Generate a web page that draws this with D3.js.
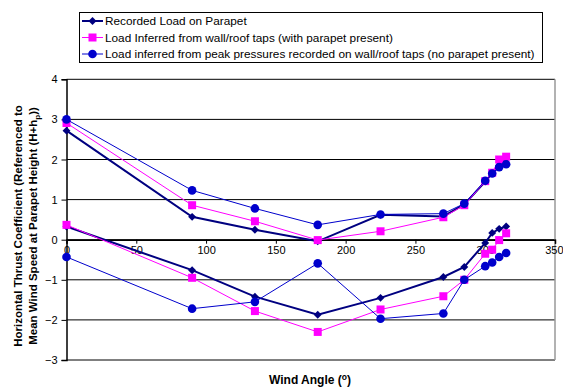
<!DOCTYPE html>
<html>
<head>
<meta charset="utf-8">
<script src="https://cdn.jsdelivr.net/npm/d3@7"></script>
<style>
  body { margin: 0; background: #fff; }
  svg { display: block; font-family: "Liberation Sans", Arial, sans-serif; }
</style>
</head>
<body>
<svg id="chart" width="563" height="388"></svg>
<script>
// wind angles (deg)
const angles = [0, 90, 135, 180, 225, 270, 285, 300, 305, 310, 315];

// recorded load on parapet (two branches)
const recordedUpper = [2.72, 0.57, 0.25, -0.04, 0.62, 0.58, 0.88, 1.45, 1.66, 1.85, 2.02];
const recordedLower = [0.33, -0.76, -1.42, -1.87, -1.45, -0.93, -0.68, -0.08, 0.17, 0.27, 0.33];
// inferred from wall/roof taps, parapet present
const inferredUpper = [2.91, 0.86, 0.46, -0.01, 0.21, 0.56, 0.86, 1.46, 1.67, 2.0, 2.07];
const inferredLower = [0.37, -0.95, -1.78, -2.30, -1.74, -1.41, -1.0, -0.35, -0.25, -0.01, 0.16];
// inferred from peak pressures, no parapet
const peakUpper = [3.0, 1.23, 0.78, 0.37, 0.63, 0.65, 0.9, 1.47, 1.65, 1.81, 1.88];
const peakLower = [-0.43, -1.72, -1.55, -0.59, -1.97, -1.84, -1.0, -0.66, -0.57, -0.43, -0.33];

const legendLabels = [
  "Recorded Load on Parapet",
  "Load Inferred from wall/roof taps (with parapet present)",
  "Load inferred from peak pressures recorded on wall/roof taps (no parapet present)"
];
const xTicks = [0, 50, 100, 150, 200, 250, 300, 350];
const yTicks = [-3, -2, -1, 0, 1, 2, 3, 4];

const series = [
  { name: legendLabels[0], branches: [recordedUpper, recordedLower], color: "#000080", width: 2, marker: "diamond" },
  { name: legendLabels[1], branches: [inferredUpper, inferredLower], color: "#ff00ff", width: 1, marker: "square" },
  { name: legendLabels[2], branches: [peakUpper, peakLower], color: "#0000cc", width: 1, marker: "circle" }
];

const svg = d3.select("#chart");
const plot = { left: 66.5, right: 555, top: 79.3, bottom: 360 };

const x = d3.scaleLinear().domain([0, 350]).range([plot.left, plot.right]);
const y = d3.scaleLinear().domain([-3, 4]).range([plot.bottom, plot.top]);

// gridlines
svg.append("g")
  .selectAll("line")
  .data(yTicks)
  .join("line")
  .attr("x1", plot.left).attr("x2", plot.right)
  .attr("y1", d => y(d)).attr("y2", d => y(d))
  .attr("stroke", "#000").attr("stroke-width", 1);

// right border of plot area
svg.append("line")
  .attr("x1", plot.right).attr("x2", plot.right)
  .attr("y1", plot.top).attr("y2", plot.bottom)
  .attr("stroke", "#999").attr("stroke-width", 1.5);

// y axis
const yAxis = svg.append("g")
  .attr("transform", `translate(${plot.left},0)`)
  .call(d3.axisLeft(y).tickValues(yTicks).tickSize(5).tickPadding(4).tickFormat(d3.format("d")));
yAxis.select(".domain").attr("stroke", "#000").attr("stroke-width", 1.5);
yAxis.selectAll("text").attr("font-size", 11).attr("font-family", "Liberation Sans, Arial").attr("fill", "#000");

// x axis at y = 0
const xAxis = svg.append("g")
  .attr("transform", `translate(0,${y(0)})`)
  .call(d3.axisBottom(x).tickValues(xTicks).tickSize(4).tickPadding(3).tickFormat(d3.format("d")));
xAxis.select(".domain").attr("stroke", "#000").attr("stroke-width", 1.5);
xAxis.selectAll("text").attr("font-size", 11).attr("font-family", "Liberation Sans, Arial").attr("fill", "#000");
// last label sits against the edge of the picture
xAxis.selectAll(".tick").filter(d => d === 350).select("text")
  .attr("text-anchor", "end").attr("x", 8);

// series
const line = d3.line().x((d, i) => x(angles[i])).y(d => y(d));

function drawMarker(g, type, color, cx, cy) {
  if (type === "diamond") {
    g.append("path")
      .attr("d", d3.symbol().type(d3.symbolDiamond2).size(40)())
      .attr("transform", `translate(${cx},${cy})`)
      .attr("fill", color);
  } else if (type === "square") {
    g.append("rect")
      .attr("x", cx - 4).attr("y", cy - 4)
      .attr("width", 8).attr("height", 8)
      .attr("fill", color);
  } else {
    g.append("circle")
      .attr("cx", cx).attr("cy", cy).attr("r", 4.3)
      .attr("fill", color);
  }
}

series.forEach(s => {
  const g = svg.append("g");
  s.branches.forEach(vals => {
    g.append("path")
      .attr("d", line(vals))
      .attr("fill", "none")
      .attr("stroke", s.color)
      .attr("stroke-width", s.width);
    vals.forEach((v, i) => drawMarker(g, s.marker, s.color, x(angles[i]), y(v)));
  });
});

// legend
const legend = svg.append("g");
legend.append("rect")
  .attr("x", 79.5).attr("y", 12.5)
  .attr("width", 463).attr("height", 50)
  .attr("fill", "#fff").attr("stroke", "#000").attr("stroke-width", 1);

series.forEach((s, i) => {
  const cy = 21 + i * 16.5;
  legend.append("line")
    .attr("x1", 82).attr("x2", 103)
    .attr("y1", cy).attr("y2", cy)
    .attr("stroke", s.color).attr("stroke-width", s.width);
  drawMarker(legend, s.marker, s.color, 92.5, cy);
  legend.append("text")
    .attr("x", 105).attr("y", cy + 4.3)
    .attr("font-size", 11.8)
    .text(s.name);
});

// y axis title
const yTitle = svg.append("text")
  .attr("transform", "translate(0,226) rotate(-90)")
  .attr("text-anchor", "middle")
  .attr("font-size", 11.5)
  .attr("font-weight", "bold");
yTitle.append("tspan").attr("x", 0).attr("y", 22)
  .text("Horizontal Thrust Coefficient (Referenced to");
const l2 = yTitle.append("tspan").attr("x", 0).attr("y", 36.5);
l2.append("tspan").text("Mean Wind Speed at Parapet Height (H+h");
l2.append("tspan").attr("font-size", 8).attr("dy", 3).text("p");
l2.append("tspan").attr("dy", -3).text("))");

// x axis title
const xTitle = svg.append("text")
  .attr("x", 310).attr("y", 384)
  .attr("text-anchor", "middle")
  .attr("font-size", 12)
  .attr("font-weight", "bold");
xTitle.append("tspan").text("Wind Angle (");
xTitle.append("tspan").attr("font-size", 8.5).attr("dy", -4).text("o");
xTitle.append("tspan").attr("dy", 4).text(")");
</script>
</body>
</html>
